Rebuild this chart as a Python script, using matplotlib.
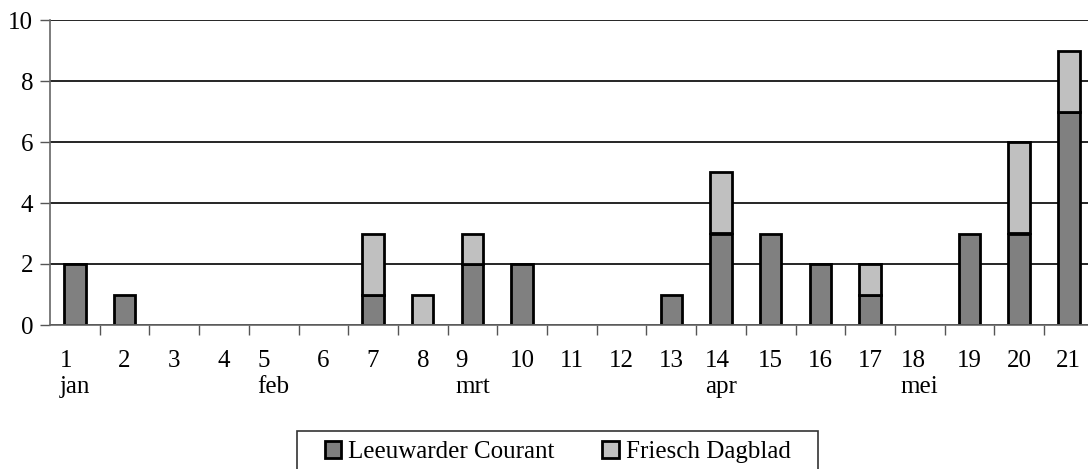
import numpy as np
import matplotlib
matplotlib.use("Agg")
import matplotlib.pyplot as plt
from matplotlib.patches import Patch, Rectangle

plt.rcParams['font.family'] = ['Liberation Serif', 'DejaVu Serif']

weeks = [str(i) for i in range(1, 22)]
months = {1: 'jan', 5: 'feb', 9: 'mrt', 14: 'apr', 18: 'mei'}
leeuwarder = [2, 1, 0, 0, 0, 0, 1, 0, 2, 2, 0, 0, 1, 3, 3, 2, 1, 0, 3, 3, 7]
friesch = [0, 0, 0, 0, 0, 0, 2, 1, 1, 0, 0, 0, 0, 2, 0, 0, 1, 0, 0, 3, 2]

c_lc = '#808080'
c_fd = '#c0c0c0'
fs = 18

fig = plt.figure(figsize=(10.88, 4.69), dpi=100)
W, H = 1088, 469
slot = 49.7
ax = fig.add_axes([50 / W, 144 / H, 21 * slot / W, 305 / H])

x = np.arange(len(weeks))
lc = np.array(leeuwarder)
fd = np.array(friesch)
bw = 0.43
m = lc > 0
ax.bar(x[m], lc[m], bw, color=c_lc, edgecolor='black', linewidth=2, zorder=3)
m2 = fd > 0
ax.bar(x[m2], fd[m2], bw, bottom=lc[m2], color=c_fd, edgecolor='black', linewidth=2, zorder=3)

ax.set_xlim(-0.5, len(weeks) - 0.5)
ax.set_ylim(0, 10)
ax.set_yticks(range(0, 11, 2))
ax.yaxis.grid(True, color='black', linewidth=1.2)
ax.set_axisbelow(True)
ax.tick_params(axis='y', labelsize=fs, length=7, width=1, pad=5, color='#555555')

labels = []
for i, w in enumerate(weeks):
    if i + 1 in months:
        labels.append(w + '\n' + months[i + 1])
    else:
        labels.append(w)
ax.set_xticks(x)
ax.set_xticklabels(labels, fontsize=fs, linespacing=1.25, va='top')
for t in ax.get_xticklabels():
    t.set_multialignment('left')
ax.tick_params(axis='x', which='major', length=0, pad=18)
ax.set_xticks(np.arange(-0.5, len(weeks), 1)[1:], minor=True)
ax.tick_params(axis='x', which='minor', length=7, width=1, color='#555555', direction='out')

for s in ['top', 'right']:
    ax.spines[s].set_visible(False)
for s in ['left', 'bottom']:
    ax.spines[s].set_color('#666666')
    ax.spines[s].set_linewidth(1.2)
ax.spines['bottom'].set_zorder(4)

# legend (frame drawn separately, wider than the entries)
handles = [Patch(facecolor=c_lc, edgecolor='black', linewidth=2),
           Patch(facecolor=c_fd, edgecolor='black', linewidth=2)]
leg = fig.legend(handles, ['Leeuwarder Courant', 'Friesch Dagblad'],
                 loc='upper center', bbox_to_anchor=(557.5 / W, 1 - 441 / H), ncol=2,
                 fontsize=fs, frameon=False, borderaxespad=0, borderpad=0,
                 handlelength=0.66, handleheight=0.66, handletextpad=0.28,
                 columnspacing=1.9)
fig.patches.append(Rectangle((297 / W, -0.05), (818 - 297) / W, 0.05 + (469 - 431) / H,
                             transform=fig.transFigure, fill=False,
                             edgecolor='#333333', linewidth=1.2))

fig.savefig('out.png', dpi=100)
